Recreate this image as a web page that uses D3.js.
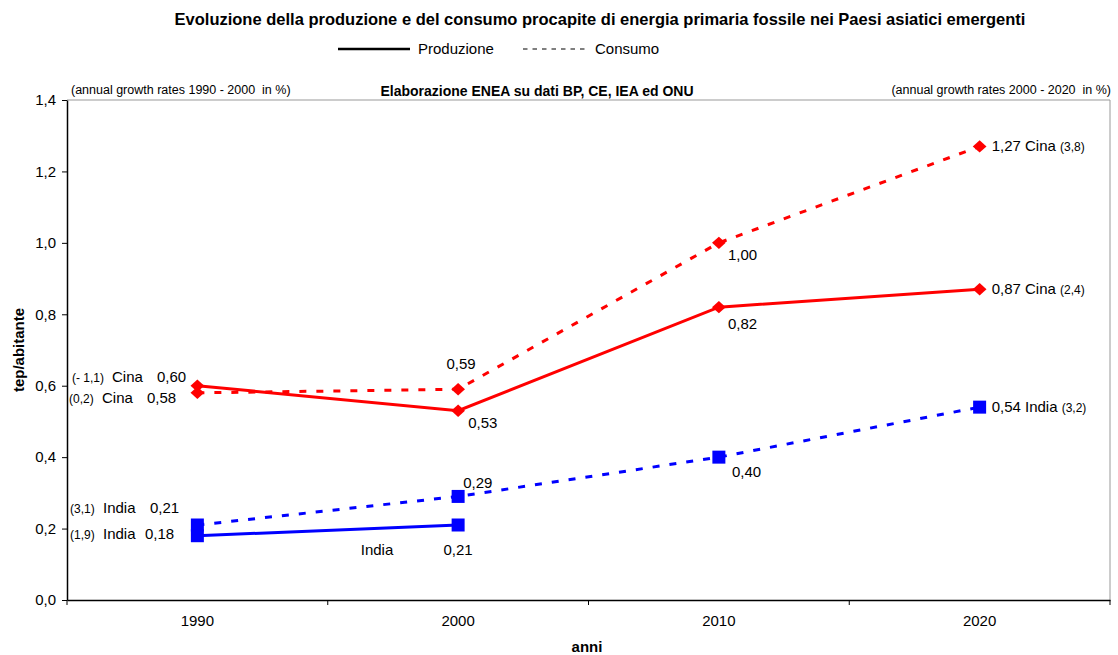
<!DOCTYPE html>
<html>
<head>
<meta charset="utf-8">
<script src="https://cdn.jsdelivr.net/npm/d3@7"></script>
<style>
  body { margin: 0; background: #fff; }
  text { font-family: Arial, "Liberation Sans", sans-serif; fill: #000; white-space: pre; }
</style>
</head>
<body>
<svg id="chart" width="1118" height="655"></svg>
<script>
// Categories and series (tep/abitante)
const years = ["1990", "2000", "2010", "2020"];
const cinaProduzione = [0.60, 0.53, 0.82, 0.87];
const cinaConsumo = [0.58, 0.59, 1.00, 1.27];
const indiaProduzione = [0.18, 0.21, null, null];
const indiaConsumo = [0.21, 0.29, 0.40, 0.54];
const yTicks = [0, 0.2, 0.4, 0.6, 0.8, 1.0, 1.2, 1.4];

// Annual growth rates (%) shown beside the end points
const rate9000 = { cinaProd: "(- 1,1)", cinaCons: "(0,2)", indiaCons: "(3,1)", indiaProd: "(1,9)" };
const rate0020 = { cinaCons: "(3,8)", cinaProd: "(2,4)", indiaCons: "(3,2)" };

const FS = 15;      // value labels, ticks, legend
const FS_SMALL = 12;

const svg = d3.select("#chart");
const m = { left: 67, right: 1110, top: 100, bottom: 600 };
const fmt = v => d3.format(".2f")(v).replace(".", ",");
const fmtTick = v => d3.format(".1f")(v).replace(".", ",");

const x = d3.scaleBand().domain(years).range([m.left, m.right]);
const y = d3.scaleLinear().domain([0, 1.4]).range([m.bottom, m.top]);
const cx = yr => x(yr) + x.bandwidth() / 2;

// Title and legend
svg.append("text").attr("x", 600).attr("y", 25).attr("text-anchor", "middle")
  .attr("font-size", 16.5).attr("font-weight", "bold")
  .text("Evoluzione della produzione e del consumo procapite di energia primaria fossile nei Paesi asiatici emergenti");
svg.append("line").attr("x1", 338).attr("x2", 410).attr("y1", 49).attr("y2", 49)
  .attr("stroke", "#000").attr("stroke-width", 2.5);
svg.append("text").attr("x", 418).attr("y", 54).attr("font-size", FS).text("Produzione");
svg.append("line").attr("x1", 523).attr("x2", 587).attr("y1", 49).attr("y2", 49)
  .attr("stroke", "#000").attr("stroke-width", 1.2).attr("stroke-dasharray", "4.5,5");
svg.append("text").attr("x", 595).attr("y", 54).attr("font-size", FS).text("Consumo");

// Notes above the plot area
svg.append("text").attr("x", 71).attr("y", 94).attr("font-size", 12.5)
  .text("(annual growth rates 1990 - 2000  in %)");
svg.append("text").attr("x", 537).attr("y", 96).attr("text-anchor", "middle")
  .attr("font-size", 14).attr("font-weight", "bold")
  .text("Elaborazione ENEA su dati BP, CE, IEA ed ONU");
svg.append("text").attr("x", 1111).attr("y", 94).attr("text-anchor", "end").attr("font-size", 12.5)
  .text("(annual growth rates 2000 - 2020  in %)");

// Plot frame (top / right)
svg.append("path")
  .attr("d", `M${m.left},${m.top}H${m.right}V${m.bottom}`)
  .attr("fill", "none").attr("stroke", "#999").attr("stroke-width", 1);

// Y axis
const yAxis = svg.append("g").attr("transform", `translate(${m.left},0)`)
  .call(d3.axisLeft(y).tickValues(yTicks).tickFormat(fmtTick).tickSize(5).tickSizeOuter(0));
yAxis.select(".domain").attr("stroke", "#000").attr("stroke-width", 1.5);
yAxis.selectAll("text").attr("font-size", FS).attr("x", -11)
  .style("font-family", "Arial, 'Liberation Sans', sans-serif");

// X axis with ticks on band boundaries
const xAxis = svg.append("g").attr("transform", `translate(0,${m.bottom})`)
  .call(d3.axisBottom(x).tickSize(0).tickPadding(15));
xAxis.select(".domain").attr("stroke", "#000").attr("stroke-width", 1.5);
xAxis.selectAll("text").attr("font-size", FS)
  .style("font-family", "Arial, 'Liberation Sans', sans-serif");
const bounds = years.map(yr => x(yr)).concat([x(years[years.length - 1]) + x.bandwidth()]);
svg.append("g").selectAll("line").data(bounds).join("line")
  .attr("x1", d => d).attr("x2", d => d).attr("y1", m.bottom).attr("y2", m.bottom + 5)
  .attr("stroke", "#000").attr("stroke-width", 1);

// Axis titles
svg.append("text").attr("transform", "translate(24,350) rotate(-90)").attr("text-anchor", "middle")
  .attr("font-size", 15).attr("font-weight", "bold").text("tep/abitante");
svg.append("text").attr("x", 587).attr("y", 652).attr("text-anchor", "middle")
  .attr("font-size", 15).attr("font-weight", "bold").text("anni");

// Series
const line = d3.line().defined(d => d.v != null).x(d => cx(d.yr)).y(d => y(d.v));
const series = [
  { vals: cinaConsumo, color: "#ff0000", dash: "7,10", marker: "diamond" },
  { vals: cinaProduzione, color: "#ff0000", dash: null, marker: "diamond" },
  { vals: indiaConsumo, color: "#0000ff", dash: "7,10", marker: "square" },
  { vals: indiaProduzione, color: "#0000ff", dash: null, marker: "square" }
];
series.forEach(s => {
  const pts = years.map((yr, i) => ({ yr, v: s.vals[i] }));
  svg.append("path").datum(pts).attr("d", line)
    .attr("fill", "none").attr("stroke", s.color).attr("stroke-width", 3)
    .attr("stroke-dasharray", s.dash);
  const sym = s.marker === "diamond"
    ? d3.symbol().type(d3.symbolDiamond2).size(120)
    : d3.symbol().type(d3.symbolSquare).size(169);
  svg.append("g").selectAll("path").data(pts.filter(d => d.v != null)).join("path")
    .attr("d", sym)
    .attr("transform", d => `translate(${cx(d.yr)},${y(d.v)})` + (s.marker === "diamond" ? " scale(1,0.9)" : ""))
    .attr("fill", s.color);
});

// Value labels
function label(xp, yp, str, anchor) {
  svg.append("text").attr("x", xp).attr("y", yp).attr("font-size", FS)
    .attr("text-anchor", anchor || "start").text(str);
}
function rateLabel(xp, yp, str) {
  svg.append("text").attr("x", xp).attr("y", yp).attr("font-size", FS_SMALL).text(str);
}

// 1990 (left side)
rateLabel(72, y(cinaProduzione[0]) - 4, rate9000.cinaProd);
label(112, y(cinaProduzione[0]) - 4, "Cina");
label(157, y(cinaProduzione[0]) - 4, fmt(cinaProduzione[0]));
rateLabel(69, y(cinaConsumo[0]) + 10, rate9000.cinaCons);
label(102, y(cinaConsumo[0]) + 10, "Cina");
label(147, y(cinaConsumo[0]) + 10, fmt(cinaConsumo[0]));
rateLabel(70, y(indiaConsumo[0]) - 12, rate9000.indiaCons);
label(103, y(indiaConsumo[0]) - 12, "India");
label(150, y(indiaConsumo[0]) - 12, fmt(indiaConsumo[0]));
rateLabel(70, y(indiaProduzione[0]) + 3, rate9000.indiaProd);
label(103, y(indiaProduzione[0]) + 3, "India");
label(145, y(indiaProduzione[0]) + 3, fmt(indiaProduzione[0]));

// 2000
label(cx("2000") + 3, y(cinaConsumo[1]) - 20, fmt(cinaConsumo[1]), "middle");
label(cx("2000") + 10, y(cinaProduzione[1]) + 17, fmt(cinaProduzione[1]));
label(cx("2000") + 5, y(indiaConsumo[1]) - 8, fmt(indiaConsumo[1]));
label(cx("2000"), y(indiaProduzione[1]) + 30, fmt(indiaProduzione[1]), "middle");
label(377, y(indiaProduzione[1]) + 30, "India", "middle");

// 2010
label(cx("2010") + 9, y(cinaConsumo[2]) + 17, fmt(cinaConsumo[2]));
label(cx("2010") + 9, y(cinaProduzione[2]) + 22, fmt(cinaProduzione[2]));
label(cx("2010") + 13, y(indiaConsumo[2]) + 20, fmt(indiaConsumo[2]));

// 2020 (right side)
function endLabel(v, name, rate) {
  const t = svg.append("text").attr("x", cx("2020") + 12).attr("y", y(v) + 5).attr("font-size", FS);
  t.append("tspan").text(fmt(v) + " " + name + " ");
  t.append("tspan").attr("font-size", FS_SMALL).text(rate);
}
endLabel(cinaConsumo[3], "Cina", rate0020.cinaCons);
endLabel(cinaProduzione[3], "Cina", rate0020.cinaProd);
endLabel(indiaConsumo[3], "India", rate0020.indiaCons);
</script>
</body>
</html>
